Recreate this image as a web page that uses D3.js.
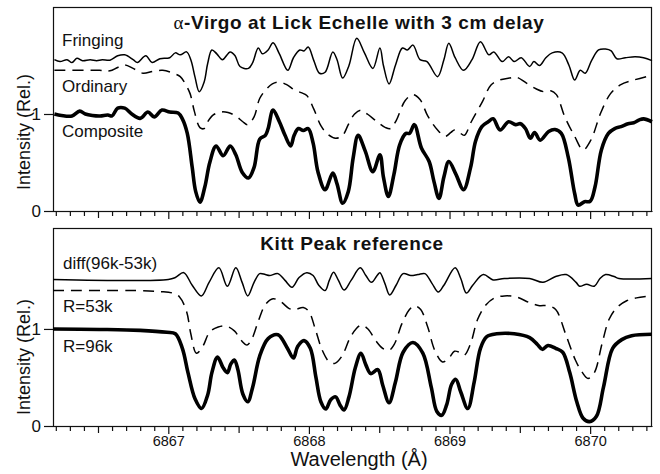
<!DOCTYPE html>
<html><head><meta charset="utf-8">
<script src="https://cdn.jsdelivr.net/npm/d3@7"></script>
<style>
html,body{margin:0;padding:0;background:#fff;}
svg text{font-family:"Liberation Sans",Arial,Helvetica,sans-serif;fill:#111;}
</style></head>
<body><svg id="c" width="660" height="474"></svg>
<script>
// ---------- DATA (wavelength in Å, relative intensity) ----------
const fringingWl = [6866.19,6866.23,6866.28,6866.315,6866.35,6866.39,6866.445,6866.49,6866.53,6866.585,6866.64,6866.69,6866.75,6866.78,6866.84,6866.885,6866.94,6867.01,6867.05,6867.085,6867.13,6867.16,6867.19,6867.22,6867.255,6867.28,6867.31,6867.345,6867.385,6867.44,6867.475,6867.51,6867.57,6867.60,6867.64,6867.67,6867.71,6867.745,6867.79,6867.85,6867.89,6867.935,6867.965,6867.995,6868.035,6868.075,6868.115,6868.17,6868.20,6868.24,6868.285,6868.34,6868.395,6868.455,6868.505,6868.53,6868.57,6868.615,6868.665,6868.70,6868.74,6868.79,6868.84,6868.915,6868.96,6868.995,6869.04,6869.10,6869.16,6869.22,6869.28,6869.315,6869.375,6869.42,6869.46,6869.51,6869.57,6869.60,6869.64,6869.685,6869.73,6869.80,6869.85,6869.89,6869.93,6869.965,6870.01,6870.06,6870.11,6870.15,6870.19,6870.25,6870.32,6870.38,6870.44];
const fringingI  = [1.56,1.54,1.56,1.53,1.575,1.55,1.56,1.55,1.56,1.555,1.60,1.61,1.56,1.53,1.60,1.53,1.57,1.58,1.63,1.61,1.64,1.56,1.38,1.23,1.33,1.52,1.66,1.62,1.56,1.64,1.60,1.49,1.47,1.53,1.68,1.62,1.66,1.735,1.62,1.45,1.58,1.66,1.65,1.69,1.55,1.42,1.43,1.64,1.56,1.37,1.50,1.78,1.63,1.47,1.68,1.50,1.31,1.50,1.68,1.66,1.71,1.56,1.54,1.385,1.56,1.73,1.58,1.45,1.56,1.745,1.61,1.64,1.54,1.59,1.54,1.58,1.49,1.54,1.50,1.58,1.63,1.63,1.50,1.35,1.45,1.42,1.55,1.66,1.67,1.65,1.57,1.58,1.59,1.58,1.55];

const ordinaryWl = [6866.19,6866.51,6866.585,6866.64,6866.69,6866.75,6866.82,6866.89,6866.96,6867.035,6867.085,6867.125,6867.155,6867.185,6867.225,6867.255,6867.28,6867.32,6867.37,6867.425,6867.48,6867.53,6867.565,6867.61,6867.65,6867.70,6867.74,6867.79,6867.845,6867.895,6867.945,6867.985,6868.035,6868.085,6868.135,6868.19,6868.24,6868.28,6868.325,6868.37,6868.415,6868.485,6868.545,6868.58,6868.62,6868.685,6868.74,6868.79,6868.845,6868.915,6868.97,6869.01,6869.035,6869.07,6869.105,6869.155,6869.235,6869.295,6869.355,6869.425,6869.475,6869.545,6869.615,6869.67,6869.72,6869.76,6869.82,6869.89,6869.95,6870.005,6870.075,6870.145,6870.215,6870.31,6870.44];
const ordinaryI  = [1.45,1.45,1.445,1.48,1.505,1.47,1.42,1.44,1.45,1.42,1.385,1.30,1.21,1.03,0.86,0.85,0.92,0.99,1.02,1.015,0.98,0.92,0.89,0.97,1.16,1.26,1.31,1.33,1.30,1.25,1.22,1.19,1.05,0.88,0.79,0.75,0.78,0.89,1.00,1.04,1.00,0.92,0.86,0.85,0.93,1.14,1.20,1.15,0.98,0.835,0.77,0.81,0.835,0.81,0.78,0.92,1.13,1.30,1.35,1.37,1.38,1.32,1.26,1.23,1.24,1.20,0.97,0.77,0.63,0.73,1.01,1.21,1.30,1.35,1.40];

const compositeWl = [6866.19,6866.24,6866.315,6866.37,6866.41,6866.46,6866.515,6866.57,6866.60,6866.64,6866.69,6866.74,6866.80,6866.855,6866.90,6866.955,6867.01,6867.07,6867.10,6867.135,6867.17,6867.195,6867.225,6867.26,6867.295,6867.34,6867.39,6867.44,6867.48,6867.525,6867.57,6867.61,6867.65,6867.69,6867.71,6867.745,6867.79,6867.83,6867.87,6867.895,6867.925,6867.96,6867.995,6868.03,6868.065,6868.115,6868.17,6868.20,6868.24,6868.28,6868.315,6868.35,6868.40,6868.455,6868.505,6868.53,6868.565,6868.605,6868.645,6868.69,6868.715,6868.75,6868.80,6868.855,6868.89,6868.925,6868.96,6868.995,6869.045,6869.10,6869.15,6869.185,6869.23,6869.275,6869.31,6869.36,6869.42,6869.47,6869.505,6869.54,6869.575,6869.605,6869.645,6869.705,6869.75,6869.795,6869.845,6869.89,6869.915,6869.96,6870.00,6870.035,6870.08,6870.13,6870.175,6870.22,6870.27,6870.31,6870.35,6870.38,6870.44];
const compositeI  = [1.00,0.985,0.98,1.03,1.00,0.985,0.98,0.99,0.98,1.06,1.06,1.00,0.955,1.02,0.97,1.04,1.02,1.01,0.95,0.80,0.45,0.20,0.09,0.25,0.50,0.67,0.57,0.67,0.58,0.40,0.34,0.45,0.74,0.78,0.85,1.04,0.92,0.78,0.67,0.78,0.85,0.83,0.85,0.70,0.40,0.22,0.39,0.28,0.08,0.20,0.55,0.78,0.62,0.405,0.58,0.35,0.15,0.38,0.68,0.80,0.80,0.89,0.65,0.51,0.30,0.13,0.35,0.51,0.38,0.22,0.45,0.72,0.87,0.92,0.95,0.835,0.92,0.89,0.90,0.85,0.75,0.81,0.73,0.82,0.84,0.80,0.55,0.18,0.06,0.096,0.10,0.25,0.63,0.80,0.85,0.87,0.90,0.91,0.94,0.95,0.92];

const diffWl = [6866.18,6867.00,6867.05,6867.11,6867.17,6867.235,6867.29,6867.36,6867.42,6867.48,6867.525,6867.565,6867.61,6867.65,6867.69,6867.72,6867.78,6867.83,6867.88,6867.93,6867.985,6868.03,6868.07,6868.115,6868.145,6868.175,6868.21,6868.25,6868.30,6868.365,6868.405,6868.445,6868.485,6868.505,6868.54,6868.575,6868.62,6868.67,6868.725,6868.775,6868.825,6868.875,6868.92,6868.96,6869.04,6869.08,6869.12,6869.165,6869.24,6869.31,6869.39,6869.57,6869.665,6869.755,6869.83,6869.90,6869.925,6869.975,6870.03,6870.07,6870.11,6870.17,6870.205,6870.44];
const diffI  = [1.51,1.51,1.53,1.58,1.45,1.34,1.48,1.63,1.44,1.63,1.48,1.34,1.48,1.57,1.56,1.55,1.57,1.50,1.43,1.53,1.58,1.55,1.45,1.395,1.50,1.585,1.50,1.40,1.50,1.63,1.55,1.48,1.55,1.58,1.47,1.35,1.45,1.57,1.55,1.56,1.57,1.47,1.38,1.45,1.63,1.52,1.37,1.45,1.56,1.505,1.52,1.52,1.48,1.54,1.56,1.48,1.44,1.46,1.44,1.52,1.56,1.54,1.52,1.52];

const r53Wl = [6866.18,6866.80,6866.94,6867.03,6867.08,6867.13,6867.16,6867.20,6867.245,6867.295,6867.355,6867.41,6867.47,6867.52,6867.56,6867.595,6867.64,6867.69,6867.745,6867.80,6867.86,6867.90,6867.96,6868.00,6868.045,6868.095,6868.145,6868.185,6868.235,6868.29,6868.335,6868.375,6868.42,6868.475,6868.525,6868.57,6868.61,6868.66,6868.715,6868.75,6868.795,6868.845,6868.895,6868.95,6868.995,6869.035,6869.07,6869.105,6869.15,6869.20,6869.26,6869.32,6869.39,6869.475,6869.57,6869.64,6869.695,6869.755,6869.825,6869.895,6869.945,6869.985,6870.03,6870.085,6870.135,6870.19,6870.26,6870.33,6870.44];
const r53I  = [1.395,1.395,1.385,1.37,1.33,1.18,0.95,0.75,0.82,0.97,1.02,1.03,0.98,0.88,0.835,0.90,1.08,1.25,1.31,1.28,1.21,1.20,1.22,1.18,1.00,0.78,0.66,0.645,0.72,0.90,1.00,1.04,1.00,0.88,0.80,0.78,0.85,1.05,1.20,1.24,1.20,1.02,0.78,0.66,0.70,0.77,0.76,0.73,0.85,1.10,1.25,1.32,1.34,1.33,1.27,1.24,1.24,1.20,0.95,0.68,0.55,0.49,0.55,0.85,1.10,1.22,1.29,1.32,1.34];

const r96Wl = [6866.18,6866.51,6866.80,6866.99,6867.05,6867.10,6867.14,6867.19,6867.236,6867.28,6867.31,6867.35,6867.39,6867.42,6867.445,6867.47,6867.495,6867.53,6867.565,6867.60,6867.65,6867.71,6867.78,6867.84,6867.89,6867.92,6867.965,6868.01,6868.05,6868.085,6868.12,6868.155,6868.19,6868.22,6868.25,6868.285,6868.33,6868.37,6868.405,6868.44,6868.49,6868.525,6868.57,6868.615,6868.67,6868.74,6868.81,6868.87,6868.91,6868.945,6868.98,6869.015,6869.045,6869.08,6869.13,6869.175,6869.22,6869.265,6869.335,6869.46,6869.57,6869.625,6869.66,6869.70,6869.755,6869.805,6869.855,6869.905,6869.95,6869.995,6870.045,6870.095,6870.16,6870.225,6870.295,6870.44];
const r96I  = [1.00,0.995,0.985,0.965,0.95,0.80,0.55,0.28,0.18,0.32,0.55,0.71,0.60,0.55,0.64,0.68,0.58,0.33,0.25,0.40,0.72,0.90,0.94,0.82,0.70,0.82,0.88,0.80,0.50,0.25,0.175,0.27,0.30,0.22,0.165,0.30,0.60,0.75,0.63,0.54,0.58,0.42,0.24,0.45,0.76,0.86,0.75,0.40,0.15,0.11,0.22,0.43,0.48,0.35,0.18,0.45,0.80,0.92,0.95,0.95,0.91,0.84,0.79,0.83,0.80,0.76,0.55,0.25,0.08,0.045,0.10,0.40,0.80,0.89,0.93,0.945];

const xTickLabels = [6867, 6868, 6869, 6870];
const yTickLabels = [0, 1];
const topTitle = "-Virgo at Lick Echelle with 3 cm delay";
const bottomTitle = "Kitt Peak reference";

// ---------- LAYOUT ----------
const svg = d3.select("#c");
const X0 = 53, X1 = 652;
const x = d3.scaleLinear().domain([6866.18, 6870.44]).range([X0, X1]);
const yTop = d3.scaleLinear().domain([0, 2.103]).range([211, 7]);
const yBot = d3.scaleLinear().domain([0, 2.04]).range([426, 228]);

const minorTicks = d3.range(0, 43).map(i => +(6866.2 + i * 0.1).toFixed(1));

function panel(y, showLabels) {
  const g = svg.append("g");
  const [yb, yt] = y.range();
  g.append("rect").attr("x", X0 + 0.5).attr("y", yt + 0.5)
    .attr("width", X1 - X0 - 1).attr("height", yb - yt)
    .attr("fill", "none").attr("stroke", "#111").attr("stroke-width", 1.2);
  const ax = g.append("g").attr("transform", `translate(0,${yb})`)
    .call(d3.axisBottom(x).tickValues(minorTicks)
      .tickFormat(d => (showLabels && xTickLabels.includes(Math.round(d * 10) / 10)) ? d3.format("d")(d) : "")
      .tickSizeOuter(0));
  ax.select(".domain").attr("stroke", "#111").attr("stroke-width", 1.2);
  ax.selectAll(".tick line").attr("stroke", "#111").attr("stroke-width", 1.2)
    .attr("y2", d => {
      const t = Math.round(d * 10);
      if (t % 10 === 0) return 8;
      if (t % 5 === 0) return 7;
      return 5;
    });
  ax.selectAll(".tick text").attr("font-size", 14.5).attr("dy", "0").attr("y", 20)
    .style("font-family", '"Liberation Sans",Arial,sans-serif').attr("fill", "#111");
  const ay = g.append("g").attr("transform", `translate(${X0},0)`)
    .call(d3.axisLeft(y).tickValues(yTickLabels).tickSize(9).tickPadding(3).tickFormat(d3.format("d")));
  ay.select(".domain").remove();
  ay.selectAll(".tick line").attr("stroke", "#111").attr("stroke-width", 1.2);
  ay.selectAll(".tick text").attr("font-size", 17).attr("fill", "#111")
    .style("font-family", '"Liberation Sans",Arial,sans-serif');
  return g;
}

panel(yTop, false);
panel(yBot, true);

function drawLine(y, wl, vals, width, dash) {
  const pts = wl.map((w, i) => [w, vals[i]]);
  const line = d3.line().x(d => x(d[0])).y(d => y(d[1])).curve(d3.curveCatmullRom.alpha(0.5));
  const p = svg.append("path").datum(pts).attr("d", line)
    .attr("fill", "none").attr("stroke", "#000").attr("stroke-width", width)
    .attr("stroke-linejoin", "round").attr("stroke-linecap", "butt");
  if (dash) p.attr("stroke-dasharray", dash);
}

drawLine(yTop, fringingWl, fringingI, 1.5, null);
drawLine(yTop, ordinaryWl, ordinaryI, 1.5, "11,7");
drawLine(yTop, compositeWl, compositeI, 3.6, null);
drawLine(yBot, diffWl, diffI, 1.5, null);
drawLine(yBot, r53Wl, r53I, 1.5, "11,7");
drawLine(yBot, r96Wl, r96I, 3.6, null);

// ---------- TEXT ----------
const t1 = svg.append("text").attr("x", 359).attr("y", 28.5).attr("text-anchor", "middle")
  .attr("font-size", 19).attr("font-weight", "bold").attr("letter-spacing", 0.6);
t1.append("tspan").text("α").attr("font-weight", "normal").style("font-family", '"Liberation Serif","DejaVu Serif",serif');
t1.append("tspan").text(topTitle);

svg.append("text").attr("x", 352).attr("y", 250).attr("text-anchor", "middle")
  .attr("font-size", 19).attr("font-weight", "bold").attr("letter-spacing", 0.6).text(bottomTitle);

const labels = [
  {t: "Fringing", x: 62, y: 46},
  {t: "Ordinary", x: 62, y: 91.5},
  {t: "Composite", x: 62, y: 136.5},
  {t: "diff(96k-53k)", x: 63, y: 269},
  {t: "R=53k", x: 63, y: 312},
  {t: "R=96k", x: 63, y: 351.5}
];
svg.selectAll("text.lab").data(labels).enter().append("text").attr("class", "lab")
  .attr("x", d => d.x).attr("y", d => d.y).attr("font-size", 17).text(d => d.t);

[[132], [357]].forEach(([cy]) => {
  svg.append("text").attr("transform", `translate(30,${cy}) rotate(-90)`)
    .attr("text-anchor", "middle").attr("font-size", 18).text("Intensity (Rel.)");
});

svg.append("text").attr("x", 359).attr("y", 466).attr("text-anchor", "middle")
  .attr("font-size", 20).text("Wavelength (Å)");
</script></body></html>
